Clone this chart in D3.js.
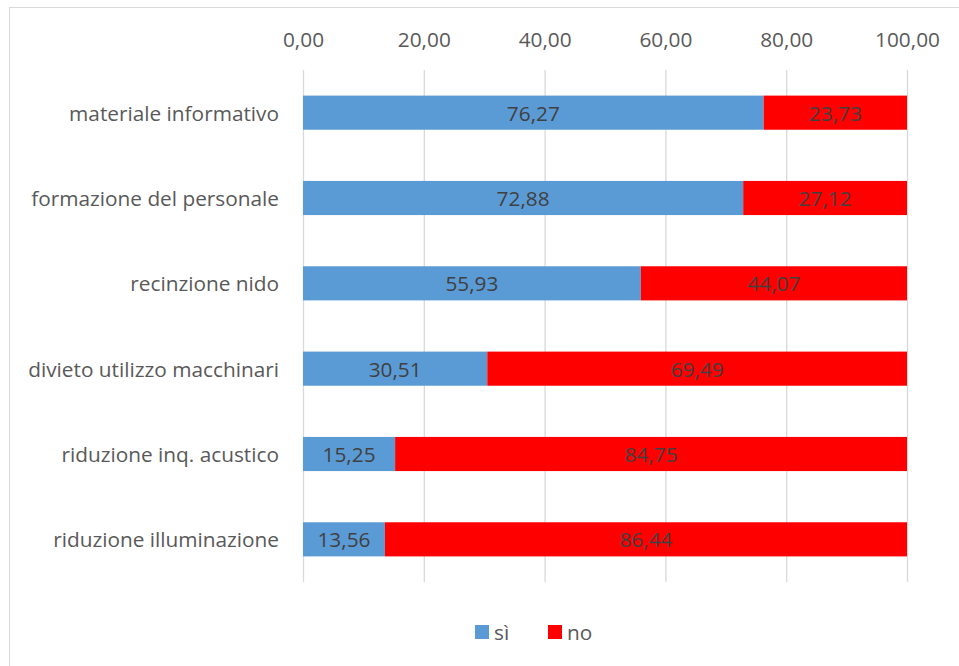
<!DOCTYPE html>
<html>
<head>
<meta charset="utf-8">
<script src="https://cdn.jsdelivr.net/npm/d3@7"></script>
<style>
  html, body { margin: 0; padding: 0; background: #fff; }
  svg text { font-family: "Open Sans", Lato, sans-serif; }
</style>
</head>
<body>
<svg id="chart" width="959" height="666"></svg>
<script>
const categories = [
  "materiale informativo",
  "formazione del personale",
  "recinzione nido",
  "divieto utilizzo macchinari",
  "riduzione inq. acustico",
  "riduzione illuminazione"
];
const siValues = [76.27, 72.88, 55.93, 30.51, 15.25, 13.56];
const noValues = [23.73, 27.12, 44.07, 69.49, 84.75, 86.44];
const tickValues = [0, 20, 40, 60, 80, 100];
const seriesNames = ["sì", "no"];
const seriesColors = ["#5B9BD5", "#FF0000"];

const fmt = v => v.toFixed(2).replace(".", ",");
const FONT_SIZE = 20.8;

const svg = d3.select("#chart");

// outer chart frame
svg.append("rect")
  .attr("x", 9.5).attr("y", 7.5)
  .attr("width", 960).attr("height", 670)
  .attr("fill", "#fff").attr("stroke", "#d9d9d9").attr("stroke-width", 1);

const plot = { left: 303, right: 907, top: 70, bottom: 582 };

const x = d3.scaleLinear().domain([0, 100]).range([plot.left, plot.right]);
const y = d3.scaleBand().domain(categories).range([plot.top, plot.bottom]).paddingInner(0.6).paddingOuter(0.3);

// vertical gridlines
svg.append("g").selectAll("line").data(tickValues).join("line")
  .attr("x1", d => x(d) + 0.5).attr("x2", d => x(d) + 0.5)
  .attr("y1", plot.top).attr("y2", plot.bottom)
  .attr("stroke", "#d9d9d9").attr("stroke-width", 1.3);

// top value axis
const xAxis = d3.axisTop(x).tickValues(tickValues).tickFormat(fmt).tickSize(0).tickPadding(0);
const gx = svg.append("g").attr("transform", `translate(0, 47)`).call(xAxis);
gx.select(".domain").remove();
gx.selectAll("text").attr("fill", "#595959").attr("font-size", FONT_SIZE).attr("dy", 0);

// category labels
svg.append("g").selectAll("text").data(categories).join("text")
  .attr("x", 279).attr("y", d => y(d) + y.bandwidth() / 2)
  .attr("text-anchor", "end").attr("dominant-baseline", "central")
  .attr("fill", "#595959").attr("font-size", FONT_SIZE)
  .text(d => d);

// stacked bars
const rows = categories.map((c, i) => ({ cat: c, si: siValues[i], no: noValues[i] }));
const stacked = d3.stack().keys(["si", "no"])(rows);

const layers = svg.append("g").selectAll("g").data(stacked).join("g")
  .attr("fill", (d, i) => seriesColors[i]);

layers.selectAll("rect").data(d => d).join("rect")
  .attr("x", d => x(d[0]))
  .attr("width", d => x(d[1]) - x(d[0]))
  .attr("y", d => y(d.data.cat))
  .attr("height", y.bandwidth());

// data labels centred in each segment
layers.selectAll("text").data(d => d).join("text")
  .attr("x", d => (x(d[0]) + x(d[1])) / 2)
  .attr("y", d => y(d.data.cat) + y.bandwidth() / 2)
  .attr("text-anchor", "middle").attr("dominant-baseline", "central")
  .attr("fill", "#404040").attr("font-size", FONT_SIZE)
  .text(d => fmt(d[1] - d[0]));

// legend
const legend = svg.append("g");
const legendX = [475, 548];
seriesNames.forEach((name, i) => {
  legend.append("rect")
    .attr("x", legendX[i]).attr("y", 625)
    .attr("width", 14).attr("height", 14)
    .attr("fill", seriesColors[i]);
  legend.append("text")
    .attr("x", legendX[i] + 19).attr("y", 632)
    .attr("dominant-baseline", "central")
    .attr("fill", "#595959").attr("font-size", FONT_SIZE)
    .text(name);
});
</script>
</body>
</html>
